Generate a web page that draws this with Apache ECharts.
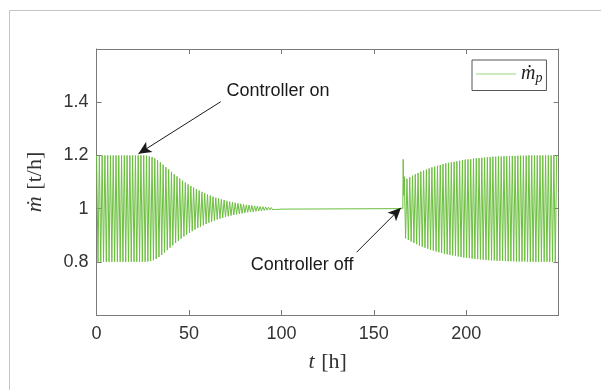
<!DOCTYPE html>
<html>
<head>
<meta charset="utf-8">
<script src="https://cdn.jsdelivr.net/npm/echarts@6/dist/echarts.min.js"></script>
<style>
  html, body { margin: 0; padding: 0; background: #fff; }
  #chart { width: 601px; height: 390px; }
</style>
</head>
<body>
<div id="chart"></div>
<script>
// oscillation period [h] and set point [t/h]
const period = 1.5;
const setpoint = 1;

// swing (half peak-to-peak) of each cycle, starting at t = 0; controller on near 24 h
const swingOn = [
  0.2, 0.2, 0.2, 0.2, 0.2, 0.2, 0.2, 0.2, 0.2, 0.2, 0.2, 0.2, 0.2, 0.2, 0.2, 0.2,
  0.2, 0.2, 0.199, 0.197, 0.194, 0.189, 0.182, 0.174, 0.165, 0.156,
  0.147, 0.138, 0.129, 0.121, 0.113, 0.105, 0.098, 0.091, 0.085, 0.079,
  0.073, 0.068, 0.063, 0.058, 0.053, 0.049, 0.045, 0.041, 0.038, 0.035,
  0.032, 0.029, 0.026, 0.024, 0.022, 0.020, 0.018, 0.016, 0.014, 0.013,
  0.012, 0.010, 0.009, 0.008, 0.007, 0.006, 0.005, 0.004, 0.003, 0.003,
  0.002
];

// flat part and the kick when the controller is switched off
const restartT = [100.5, 165.7, 165.9, 166.2, 166.5];
const restartV = [1, 1, 1.185, 1.05, 1.12];

// swing of each cycle after the controller is off, starting at t = 167
const offStart = 167;
const swingOff = [
  0.112, 0.118, 0.124, 0.129, 0.134, 0.139, 0.143, 0.147, 0.151, 0.155,
  0.158, 0.161, 0.164, 0.167, 0.170, 0.172, 0.174, 0.176, 0.178, 0.180,
  0.182, 0.184, 0.185, 0.186, 0.188, 0.189, 0.190, 0.191, 0.192, 0.193,
  0.194, 0.195, 0.195, 0.196, 0.196, 0.197, 0.197, 0.198, 0.198, 0.198,
  0.199, 0.199, 0.199, 0.199,
  0.2, 0.2, 0.2, 0.2, 0.2, 0.2, 0.2, 0.2, 0.2, 0.2, 0.2
];

const xTicks = [0, 50, 100, 150, 200];
const yTicks = [0.8, 1, 1.2, 1.4];

// annotations: [text x, text y], arrow from -> to
const notes = [
  { name: 'Controller on', at: [98.2, 1.442], from: [67.2, 1.402], to: [22.6, 1.206] },
  { name: 'Controller off', at: [111.2, 0.786], from: [140.7, 0.836], to: [164.7, 1.003] }
];

const flow = [];
swingOn.forEach((a, i) => {
  const t = i * period;
  flow.push([t, setpoint + a], [t + period / 2, setpoint - a]);
});
restartT.forEach((t, i) => flow.push([t, restartV[i]]));
swingOff.forEach((a, i) => {
  const t = offStart + i * period;
  flow.push([t + 0.2, setpoint - a], [t + 0.2 + period / 2, setpoint + a]);
});

const chart = echarts.init(document.getElementById('chart'));

const axisColor = '#7a7a7a';
const labelColor = '#333333';
const tickFont = { fontFamily: 'Liberation Sans, Arial, sans-serif', fontSize: 18, color: labelColor };

function xAxisOf(pos, labels) {
  return {
    type: 'value', position: pos, min: 0, max: 250, interval: 50,
    axisLine: { show: true, onZero: false, lineStyle: { color: axisColor, width: 1 } },
    axisTick: { show: true, inside: true, length: 5, lineStyle: { color: axisColor } },
    splitLine: { show: false },
    axisLabel: {
      show: labels, margin: 10, ...tickFont,
      formatter: v => xTicks.includes(v) ? String(v) : ''
    }
  };
}
function yAxisOf(pos, labels) {
  return {
    type: 'value', position: pos, min: 0.6, max: 1.6, interval: 0.2,
    axisLine: { show: true, onZero: false, lineStyle: { color: axisColor, width: 1 } },
    axisTick: { show: true, inside: true, length: 5, lineStyle: { color: axisColor } },
    splitLine: { show: false },
    axisLabel: {
      show: labels, margin: 8, ...tickFont,
      formatter: v => {
        const r = Math.round(v * 10) / 10;
        return yTicks.includes(r) ? String(r) : '';
      }
    }
  };
}

const nameRich = {
  i: { fontFamily: 'Liberation Serif, serif', fontStyle: 'italic', fontSize: 22, color: labelColor },
  u: { fontFamily: 'Liberation Serif, serif', fontSize: 22, color: labelColor }
};
const xMain = xAxisOf('bottom', true);
xMain.name = '{i|t}  {u|[h]}';
xMain.nameLocation = 'middle';
xMain.nameGap = 36;
xMain.nameTextStyle = { rich: nameRich };
const yMain = yAxisOf('left', true);
yMain.name = '{i|ṁ}  {u|[t/h]}';
yMain.nameLocation = 'middle';
yMain.nameGap = 50;
yMain.nameRotate = 90;
yMain.nameTextStyle = { rich: nameRich };

chart.setOption({
  animation: false,
  backgroundColor: '#ffffff',
  grid: { left: 96.6, right: 42.4, top: 49, bottom: 75, containLabel: false },
  xAxis: [xMain, xAxisOf('top', false)],
  yAxis: [yMain, yAxisOf('right', false)],
  legend: {
    show: true,
    left: 472, top: 60,
    itemWidth: 40, itemHeight: 10, itemGap: 4,
    padding: [4, 4, 5, 4],
    borderColor: '#555', borderWidth: 1, borderRadius: 0,
    backgroundColor: '#fff',
    formatter: () => '{m|ṁ}{p|p}',
    textStyle: {
      rich: {
        m: { fontFamily: 'Liberation Serif, serif', fontStyle: 'italic', fontSize: 20, color: '#222' },
        p: { fontFamily: 'Liberation Serif, serif', fontStyle: 'italic', fontSize: 14, color: '#222', padding: [9, 0, 0, 0] }
      }
    },
    data: [{ name: 'mp', icon: 'path://M0,0L40,0L40,1L0,1Z', itemStyle: { color: '#9bd67d' } }]
  },
  graphic: [{
    type: 'rect', silent: true, z: -10,
    shape: { x: 9.5, y: 10.5, width: 700, height: 500 },
    style: { fill: 'none', stroke: '#c4c4c4', lineWidth: 1 }
  }],
  series: [{
    name: 'mp',
    type: 'line',
    data: flow,
    symbol: 'none',
    sampling: false,
    clip: true,
    lineStyle: { color: '#6cbf3f', width: 1 },
    itemStyle: { color: '#6cbf3f' },
    markLine: {
      silent: true,
      symbol: ['none', 'arrow'],
      symbolSize: [9, 13],
      lineStyle: { color: '#1a1a1a', width: 1, type: 'solid' },
      label: { show: false },
      data: notes.map(n => [{ coord: n.from }, { coord: n.to }])
    },
    markPoint: {
      silent: true,
      symbol: 'circle',
      symbolSize: 1,
      itemStyle: { color: 'rgba(0,0,0,0)' },
      label: {
        show: true, position: 'inside', formatter: p => p.name,
        fontFamily: 'Liberation Sans, Arial, sans-serif', fontSize: 18, color: '#1a1a1a'
      },
      data: notes.map(n => ({ name: n.name, coord: n.at }))
    }
  }]
});
</script>
</body>
</html>
